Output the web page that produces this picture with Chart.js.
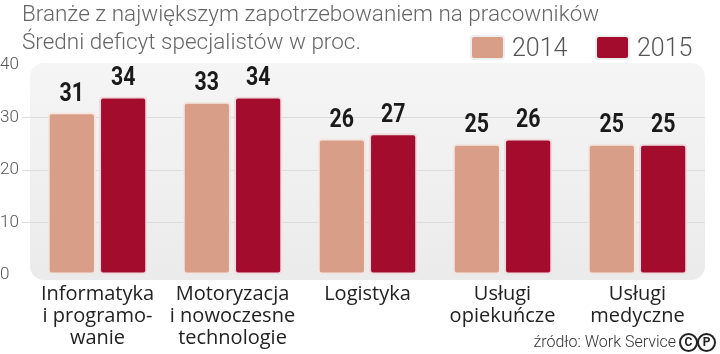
<!DOCTYPE html>
<html>
<head>
<meta charset="utf-8">
<script src="https://cdn.jsdelivr.net/npm/chart.js@4"></script>
<style>
  html, body { margin: 0; padding: 0; background: #fff; }
  #wrap { position: relative; width: 720px; height: 354px; overflow: hidden; }
  canvas { position: absolute; left: 0; top: 0; }
  .title { position: absolute; left: 22px; color: #666; font-family: Roboto, sans-serif; font-weight: 300; font-size: 22.5px; white-space: nowrap; }
  .leg { position: absolute; top: 33px; display: flex; align-items: center; font-family: Roboto, sans-serif; font-weight: 300; font-size: 25px; color: #555; }
  .sw { width: 35px; height: 25px; border-radius: 4px; border: 2px solid #eee; margin-right: 7px; box-sizing: border-box; }
  .src { position: absolute; right: 44px; top: 332px; font-family: Roboto, sans-serif; font-weight: 300; font-size: 16px; color: #333; }
  .cp { position: absolute; top: 333px; width: 15px; height: 15px; border: 2.5px solid #222; border-radius: 50%; font-family: Roboto, sans-serif; font-weight: bold; font-size: 12px; line-height: 15px; text-align: center; color: #222; }
</style>
</head>
<body>
<div id="wrap">
  <canvas id="chart" width="720" height="354"></canvas>
  <div class="title" style="top:0px">Branże z największym zapotrzebowaniem na pracowników</div>
  <div class="title" style="top:28px">Średni deficyt specjalistów w proc.</div>
  <div class="leg" style="left:470px"><div class="sw" style="background:#d99e88"></div>2014</div>
  <div class="leg" style="left:595px"><div class="sw" style="background:#a30c2c"></div>2015</div>
  <div class="src">źródło: Work Service</div>
  <div class="cp" style="left:679px">C</div>
  <div class="cp" style="left:697px">P</div>
</div>
<script>
const categories = [
  ['Informatyka', 'i programo-', 'wanie'],
  ['Motoryzacja', 'i nowoczesne', 'technologie'],
  ['Logistyka'],
  ['Usługi', 'opiekuńcze'],
  ['Usługi', 'medyczne']
];
const values2014 = [31, 33, 26, 25, 25];
const values2015 = [34, 34, 27, 26, 25];
const yTicks = [0, 10, 20, 30, 40];

const plotBg = {
  id: 'plotBg',
  beforeDraw(chart) {
    const { ctx, chartArea: a } = chart;
    ctx.save();
    const g = ctx.createLinearGradient(0, a.top, 0, a.bottom);
    g.addColorStop(0, '#f5f5f5');
    g.addColorStop(1, '#ebebeb');
    ctx.fillStyle = g;
    ctx.beginPath();
    ctx.roundRect(a.left, a.top - 2, a.right - a.left, a.bottom - a.top + 7, 14);
    ctx.fill();
    ctx.restore();
  }
};

// condensed bold numbers above bars (squeezed horizontally)
const valueLabels = {
  id: 'valueLabels',
  afterDatasetsDraw(chart) {
    const { ctx } = chart;
    chart.data.datasets.forEach((ds, i) => {
      chart.getDatasetMeta(i).data.forEach((bar, j) => {
        ctx.save();
        ctx.translate(bar.x, bar.y - 5);
        ctx.scale(0.82, 1);
        ctx.font = 'bold 26px Roboto, sans-serif';
        ctx.fillStyle = '#1a1a1a';
        ctx.textAlign = 'center';
        ctx.textBaseline = 'bottom';
        ctx.fillText(ds.data[j], 0, 0);
        ctx.restore();
      });
    });
  }
};

new Chart(document.getElementById('chart'), {
  type: 'bar',
  data: {
    labels: categories,
    datasets: [
      { label: '2014', data: values2014, backgroundColor: '#d99e88', borderColor: '#f3e6e1', borderWidth: 2, borderRadius: 4, borderSkipped: false },
      { label: '2015', data: values2015, backgroundColor: '#a30c2c', borderColor: '#f0dadd', borderWidth: 2, borderRadius: 4, borderSkipped: false }
    ]
  },
  options: {
    responsive: false,
    animation: false,
    layout: { padding: { top: 65, right: 15, left: 0, bottom: 0 } },
    categoryPercentage: 0.76,
    barPercentage: 0.94,
    plugins: { legend: { display: false }, tooltip: { enabled: false } },
    scales: {
      x: {
        grid: { display: false },
        border: { display: false },
        ticks: {
          color: '#222',
          font: { family: '"Open Sans", sans-serif', size: 20, lineHeight: 1.1 },
          padding: 0,
          maxRotation: 0,
          autoSkip: false
        },
        afterFit(scale) { scale.height = 79; }
      },
      y: {
        min: 0, max: 40,
        afterBuildTicks(scale) { scale.ticks = yTicks.map(v => ({ value: v })); },
        grid: { color: ctx => (ctx.tick && (ctx.tick.value === 0 || ctx.tick.value === 40)) ? 'rgba(0,0,0,0)' : '#dcdcdc', lineWidth: 1 },
        border: { display: false },
        ticks: {
          color: '#555',
          font: { family: 'Roboto, sans-serif', size: 17, weight: 300 },
          padding: 0,
          crossAlign: 'far'
        },
        afterFit(scale) { scale.width = 30; }
      }
    }
  },
  plugins: [plotBg, valueLabels]
});
</script>
</body>
</html>
